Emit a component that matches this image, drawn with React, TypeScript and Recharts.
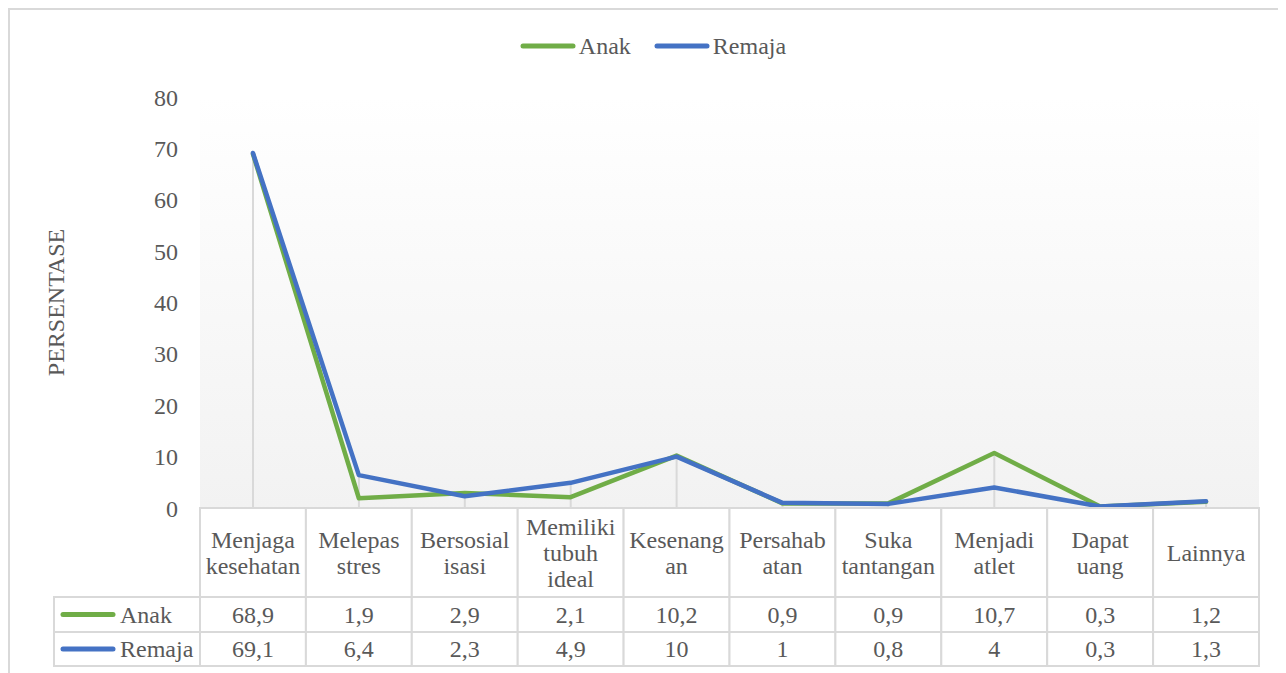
import React from "react";
import {
  ComposedChart,
  Line,
  Bar,
  XAxis,
  YAxis,
  CartesianGrid,
  Legend,
} from "recharts";

// data
const kategori = [
  "Menjaga kesehatan",
  "Melepas stres",
  "Bersosialisasi",
  "Memiliki tubuh ideal",
  "Kesenangan",
  "Persahabatan",
  "Suka tantangan",
  "Menjadi atlet",
  "Dapat uang",
  "Lainnya",
];
const labelKategori = [
  ["Menjaga", "kesehatan"],
  ["Melepas", "stres"],
  ["Bersosial", "isasi"],
  ["Memiliki", "tubuh", "ideal"],
  ["Kesenang", "an"],
  ["Persahab", "atan"],
  ["Suka", "tantangan"],
  ["Menjadi", "atlet"],
  ["Dapat", "uang"],
  ["Lainnya"],
];
const anak = [68.9, 1.9, 2.9, 2.1, 10.2, 0.9, 0.9, 10.7, 0.3, 1.2];
const remaja = [69.1, 6.4, 2.3, 4.9, 10, 1, 0.8, 4, 0.3, 1.3];
const yTicks = [0, 10, 20, 30, 40, 50, 60, 70, 80];

const seri = [
  { key: "anak", nama: "Anak", warna: "#70ad47", nilai: anak },
  { key: "remaja", nama: "Remaja", warna: "#4472c4", nilai: remaja },
];

const data = kategori.map((k, i) => ({
  kategori: k,
  anak: anak[i],
  remaja: remaja[i],
  puncak: Math.max(anak[i], remaja[i]),
}));

const FONT = '"Liberation Serif", "Times New Roman", serif';
const TEKS = "#595959";
const GARIS = "#d9d9d9";
const FS = 24;

const CHART_W = 1274;
const CHART_H = 680;
const MARGIN = { top: 18, right: 25, bottom: 24, left: 0 };
const LEBAR_Y = 190;
const LEBAR_SEL = (CHART_W - MARGIN.left - MARGIN.right - LEBAR_Y) / kategori.length;
const TINGGI_HEADER = 89;
const TINGGI_BARIS = [35, 34];
const LEBAR_KIRI = 146;

function fmt(v: number) {
  return String(v).replace(".", ",");
}

function SelTabel(props: any) {
  const { x, y, payload } = props;
  const i: number = payload.index;
  const kiri = x - LEBAR_SEL / 2;
  const baris = labelKategori[i];
  const tengahHeader = y + TINGGI_HEADER / 2;
  let yBaris = y + TINGGI_HEADER;
  const rows = seri.map((s, r) => {
    const top = yBaris;
    yBaris += TINGGI_BARIS[r];
    return { s, top, h: TINGGI_BARIS[r] };
  });
  return (
    <g>
      <rect x={kiri} y={y} width={LEBAR_SEL} height={TINGGI_HEADER} fill="#fff" stroke={GARIS} strokeWidth={2} />
      <text textAnchor="middle" fill={TEKS} fontSize={FS} fontFamily={FONT}>
        {baris.map((b, k) => (
          <tspan key={k} x={x} y={tengahHeader + (k - (baris.length - 1) / 2) * 26} dominantBaseline="central">
            {b}
          </tspan>
        ))}
      </text>
      {rows.map(({ s, top, h }) => (
        <g key={s.key}>
          <rect x={kiri} y={top} width={LEBAR_SEL} height={h} fill="#fff" stroke={GARIS} strokeWidth={2} />
          <text x={x} y={top + h / 2} textAnchor="middle" dominantBaseline="central" fill={TEKS} fontSize={FS} fontFamily={FONT}>
            {fmt(s.nilai[i])}
          </text>
          {i === 0 && (
            <g>
              <rect x={kiri - LEBAR_KIRI} y={top} width={LEBAR_KIRI} height={h} fill="#fff" stroke={GARIS} strokeWidth={2} />
              <line
                x1={kiri - LEBAR_KIRI + 9}
                x2={kiri - LEBAR_KIRI + 59}
                y1={top + h / 2}
                y2={top + h / 2}
                stroke={s.warna}
                strokeWidth={5}
                strokeLinecap="round"
              />
              <text x={kiri - LEBAR_KIRI + 66} y={top + h / 2} dominantBaseline="central" fill={TEKS} fontSize={FS} fontFamily={FONT}>
                {s.nama}
              </text>
            </g>
          )}
        </g>
      ))}
    </g>
  );
}

function IsiLegenda() {
  return (
    <div
      style={{
        display: "flex",
        justifyContent: "center",
        alignItems: "center",
        height: 36,
        paddingLeft: 12,
        fontFamily: FONT,
      }}
    >
      {seri.map((s, k) => (
        <div key={s.key} style={{ display: "flex", alignItems: "center", marginLeft: k === 0 ? 0 : 23 }}>
          <svg width={56} height={8}>
            <line x1={3} x2={53} y1={4} y2={4} stroke={s.warna} strokeWidth={5} strokeLinecap="round" />
          </svg>
          <span style={{ marginLeft: 3, fontSize: FS, color: TEKS, lineHeight: "36px" }}>{s.nama}</span>
        </div>
      ))}
    </div>
  );
}

function LabelSumbuY(props: any) {
  const vb = props.viewBox || { x: 0, y: 0, width: 0, height: 0 };
  const cx = vb.x + 46;
  const cy = vb.y + vb.height / 2;
  return (
    <text
      x={cx}
      y={cy}
      transform={`rotate(-90 ${cx} ${cy})`}
      textAnchor="middle"
      dominantBaseline="central"
      fill={TEKS}
      fontSize={FS}
      fontFamily={FONT}
    >
      PERSENTASE
    </text>
  );
}

export default function App() {
  return (
    <div
      style={{
        position: "relative",
        width: CHART_W,
        height: 700,
        border: `2px solid ${GARIS}`,
        background: "#fff",
        fontFamily: FONT,
      }}
    >
      <ComposedChart width={CHART_W} height={CHART_H} data={data} margin={MARGIN}>
        <defs>
          <linearGradient id="latarPlot" x1="0" y1="0" x2="0" y2="1">
            <stop offset="0%" stopColor="#ffffff" />
            <stop offset="100%" stopColor="#f2f2f2" />
          </linearGradient>
        </defs>
        <CartesianGrid horizontal={false} vertical={false} fill="url(#latarPlot)" stroke="none" />
        <Legend
          verticalAlign="top"
          height={69}
          width={CHART_W}
          wrapperStyle={{ left: 0, top: MARGIN.top }}
          content={<IsiLegenda />}
        />
        <XAxis
          dataKey="kategori"
          scale="band"
          interval={0}
          height={158}
          axisLine={false}
          tickLine={false}
          tickSize={0}
          tickMargin={0}
          tick={<SelTabel />}
        />
        <YAxis
          domain={[0, 80]}
          ticks={yTicks}
          width={LEBAR_Y}
          axisLine={false}
          tickLine={false}
          tickMargin={16}
          tick={{ fill: TEKS, fontSize: FS, fontFamily: FONT }}
          label={{ content: <LabelSumbuY /> }}
        />
        <Bar dataKey="puncak" barSize={2} fill={GARIS} isAnimationActive={false} legendType="none" />
        {seri.map((s) => (
          <Line
            key={s.key}
            type="linear"
            dataKey={s.key}
            name={s.nama}
            stroke={s.warna}
            strokeWidth={4.5}
            strokeLinejoin="round"
            strokeLinecap="round"
            dot={false}
            activeDot={false}
            isAnimationActive={false}
          />
        ))}
      </ComposedChart>
    </div>
  );
}
